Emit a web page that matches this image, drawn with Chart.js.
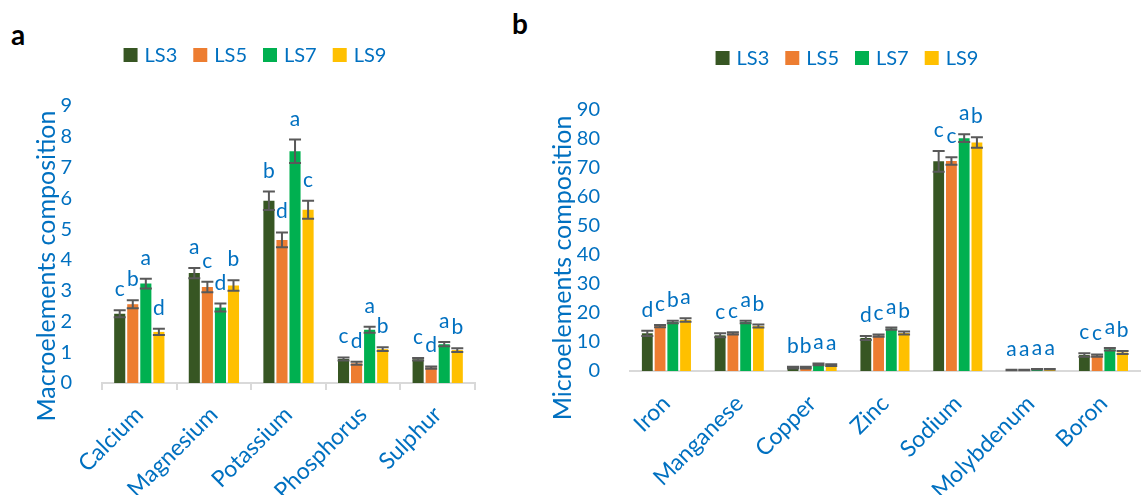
<!DOCTYPE html>
<html>
<head>
<meta charset="utf-8">
<script src="https://cdn.jsdelivr.net/npm/chart.js@4"></script>
<style>
body { margin: 0; background: #fff; width: 1142px; height: 495px; position: relative; overflow: hidden; }
canvas { position: absolute; top: 0; }
#macro { left: 0; }
#micro { left: 540px; }
.panel { position: absolute; font: bold 28px Lato, sans-serif; color: #000; line-height: 1; }
</style>
</head>
<body>
<div class="panel" style="left:11px;top:20px">a</div>
<div class="panel" style="left:512px;top:9px">b</div>
<canvas id="macro" width="500" height="495"></canvas>
<canvas id="micro" width="602" height="495"></canvas>
<script>
const series = ['LS3', 'LS5', 'LS7', 'LS9'];
const colors = ['#375623', '#ED7D31', '#00B050', '#FFC000'];

// panel a - macroelements
const macroLabels = ['Calcium', 'Magnesium', 'Potassium', 'Phosphorus', 'Sulphur'];
const macroLS3 = [2.25, 3.57, 5.92, 0.78, 0.77];
const macroLS5 = [2.56, 3.12, 4.65, 0.64, 0.5];
const macroLS7 = [3.23, 2.45, 7.53, 1.73, 1.26];
const macroLS9 = [1.66, 3.17, 5.63, 1.1, 1.07];
const macroErrLS3 = [0.11, 0.17, 0.3, 0.05, 0.04];
const macroErrLS5 = [0.13, 0.17, 0.24, 0.05, 0.04];
const macroErrLS7 = [0.16, 0.13, 0.38, 0.1, 0.07];
const macroErrLS9 = [0.1, 0.17, 0.29, 0.06, 0.06];
const macroSigLS3 = ['c', 'a', 'b', 'c', 'c'];
const macroSigLS5 = ['b', 'c', 'd', 'd', 'd'];
const macroSigLS7 = ['a', 'd', 'a', 'a', 'a'];
const macroSigLS9 = ['d', 'b', 'c', 'b', 'b'];
const macroTicks = [0, 1, 2, 3, 4, 5, 6, 7, 8, 9];

// panel b - microelements
const microLabels = ['Iron', 'Manganese', 'Copper', 'Zinc', 'Sodium', 'Molybdenum', 'Boron'];
const microLS3 = [13.0, 12.3, 1.2, 11.4, 72.3, 0.35, 5.5];
const microLS5 = [15.5, 13.0, 1.2, 12.2, 72.4, 0.35, 5.3];
const microLS7 = [16.9, 16.9, 2.3, 14.6, 80.3, 0.6, 7.5];
const microLS9 = [17.6, 15.5, 2.0, 13.1, 78.8, 0.6, 6.4];
const microErrLS3 = [0.9, 0.7, 0.3, 0.7, 3.6, 0.1, 0.6];
const microErrLS5 = [0.4, 0.4, 0.3, 0.4, 1.3, 0.1, 0.4];
const microErrLS7 = [0.4, 0.4, 0.3, 0.4, 1.3, 0.1, 0.4];
const microErrLS9 = [0.6, 0.5, 0.3, 0.5, 1.8, 0.1, 0.5];
const microSigLS3 = ['d', 'c', 'b', 'd', 'c', 'a', 'c'];
const microSigLS5 = ['c', 'c', 'b', 'c', 'c', 'a', 'c'];
const microSigLS7 = ['b', 'a', 'a', 'a', 'a', 'a', 'a'];
const microSigLS9 = ['a', 'b', 'a', 'b', 'b', 'a', 'b'];
const microTicks = [0, 10, 20, 30, 40, 50, 60, 70, 80, 90];

const blue = '#0070C0';
const axisGrey = '#D9D9D9';
const FONT = 'Lato, sans-serif';

function makeSets(vals, errs, sigs) {
    return series.map((name, i) => ({
        label: name,
        data: vals[i],
        errors: errs[i],
        letters: sigs[i],
        backgroundColor: colors[i],
        categoryPercentage: 0.7,
        barPercentage: 0.85
    }));
}

// error bars, significance letters, axis title and the legend row
const extras = {
    id: 'extras',
    afterDatasetsDraw(chart, args, opts) {
        const ctx = chart.ctx;
        const y = chart.scales.y;
        ctx.save();
        chart.data.datasets.forEach((ds, i) => {
            chart.getDatasetMeta(i).data.forEach((bar, j) => {
                const v = ds.data[j], e = ds.errors[j];
                const top = y.getPixelForValue(v + e);
                const bot = y.getPixelForValue(v - e);
                ctx.strokeStyle = '#595959';
                ctx.lineWidth = 2;
                ctx.beginPath();
                ctx.moveTo(bar.x, top); ctx.lineTo(bar.x, bot);
                ctx.moveTo(bar.x - 6, top); ctx.lineTo(bar.x + 6, top);
                ctx.moveTo(bar.x - 6, bot); ctx.lineTo(bar.x + 6, bot);
                ctx.stroke();
                ctx.fillStyle = blue;
                ctx.font = '21px ' + FONT;
                ctx.textAlign = 'center';
                ctx.textBaseline = 'alphabetic';
                ctx.fillText(ds.letters[j], bar.x, top - 14);
            });
        });
        ctx.restore();
    },
    afterDraw(chart, args, opts) {
        const ctx = chart.ctx;
        ctx.save();
        // y title
        ctx.save();
        ctx.translate(opts.titleX, opts.titleY);
        ctx.rotate(-Math.PI / 2);
        ctx.font = '25px ' + FONT;
        ctx.fillStyle = blue;
        ctx.textAlign = 'center';
        ctx.textBaseline = 'middle';
        ctx.fillText(opts.title, 0, 0);
        ctx.restore();
        // legend
        ctx.font = '20px ' + FONT;
        const items = chart.data.datasets.map(ds => ({label: ds.label, color: ds.backgroundColor, w: ctx.measureText(ds.label).width}));
        const gap = 16, box = 14, sp = 7;
        let total = items.reduce((s, it) => s + box + sp + it.w, 0) + gap * (items.length - 1);
        let x = opts.cx - total / 2;
        items.forEach(it => {
            ctx.fillStyle = it.color;
            ctx.fillRect(x, opts.cy - box / 2, box, box);
            ctx.fillStyle = blue;
            ctx.textBaseline = 'middle';
            ctx.textAlign = 'left';
            ctx.fillText(it.label, x + box + sp, opts.cy + 1);
            x += box + sp + it.w + gap;
        });
        ctx.restore();
    }
};

function makeChart(id, labels, sets, ticks, title, cfg) {
    return new Chart(document.getElementById(id), {
        type: 'bar',
        data: { labels: labels, datasets: sets },
        plugins: [extras],
        options: {
            responsive: false,
            animation: false,
            layout: { padding: { top: cfg.top, right: cfg.right, left: 0, bottom: 0 } },
            plugins: {
                legend: { display: false },
                tooltip: { enabled: false },
                extras: { cx: cfg.legendX, cy: cfg.legendY, title: title, titleX: cfg.titleX, titleY: cfg.titleY }
            },
            scales: {
                x: {
                    grid: { display: true, drawOnChartArea: false, drawTicks: cfg.ticks, tickLength: 7, color: axisGrey, lineWidth: 2 },
                    border: { display: true, color: axisGrey, width: 2 },
                    ticks: { color: blue, font: { family: FONT, size: 23 }, minRotation: 45, maxRotation: 45, padding: cfg.xpad },
                    afterFit: s => { s.height = cfg.xh; }
                },
                y: {
                    min: ticks[0],
                    max: ticks[ticks.length - 1],
                    afterBuildTicks: s => { s.ticks = ticks.map(v => ({ value: v })); },
                    grid: { display: false },
                    border: { display: false },
                    ticks: { color: blue, font: { family: FONT, size: 20 }, padding: 22 },
                    afterFit: s => { s.width = cfg.yw; }
                }
            }
        }
    });
}

makeChart('macro', macroLabels,
    makeSets([macroLS3, macroLS5, macroLS7, macroLS9], [macroErrLS3, macroErrLS5, macroErrLS7, macroErrLS9], [macroSigLS3, macroSigLS5, macroSigLS7, macroSigLS9]),
    macroTicks, 'Macroelements composition',
    { top: 106, right: 25, yw: 102, xh: 112, xpad: 11, ticks: true, legendX: 255, legendY: 55, titleX: 47, titleY: 266 });

makeChart('micro', microLabels,
    makeSets([microLS3, microLS5, microLS7, microLS9], [microErrLS3, microErrLS5, microErrLS7, microErrLS9], [microSigLS3, microSigLS5, microSigLS7, microSigLS9]),
    microTicks, 'Microelements composition',
    { top: 110, right: 0, yw: 90, xh: 124, xpad: 19, ticks: false, legendX: 307, legendY: 58, titleX: 23, titleY: 268 });
</script>
</body>
</html>
